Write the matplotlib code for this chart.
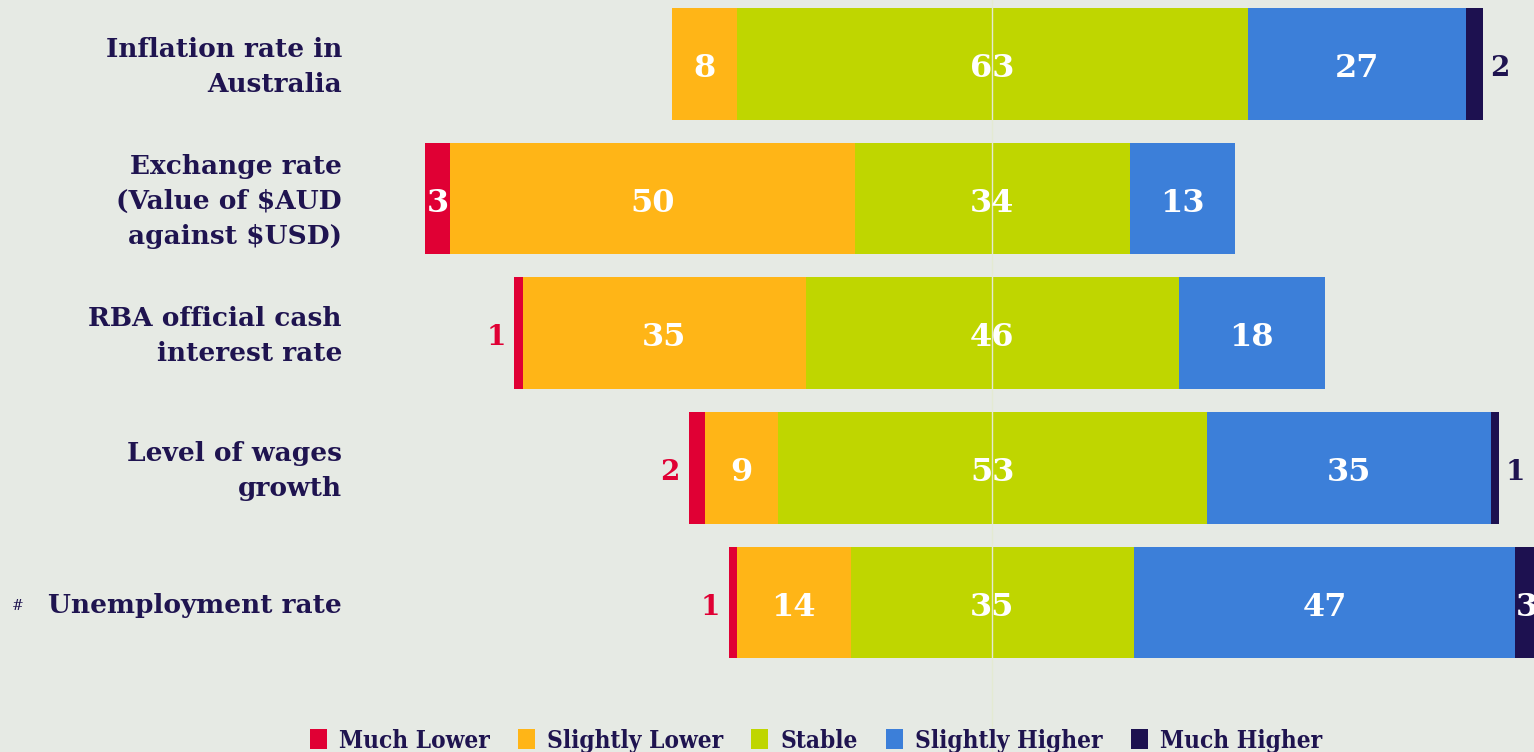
import matplotlib
matplotlib.use("Agg")
import matplotlib.pyplot as plt
from matplotlib.patches import Patch
import numpy as np

# survey outlook, % of respondents
categories = ["Inflation rate in\nAustralia",
              "Exchange rate\n(Value of $AUD\nagainst $USD)",
              "RBA official cash\ninterest rate",
              "Level of wages\ngrowth",
              "Unemployment rate"]
much_lower = [0, 3, 1, 2, 1]
slightly_lower = [8, 50, 35, 9, 14]
stable = [63, 34, 46, 53, 35]
slightly_higher = [27, 13, 18, 35, 47]
much_higher = [2, 0, 0, 1, 3]

series_names = ["Much Lower", "Slightly Lower", "Stable", "Slightly Higher", "Much Higher"]
colors = ["#e00034", "#ffb517", "#bfd600", "#3c7fd9", "#1d1150"]
bg = "#e6eae4"
navy = "#1f1450"

plt.rcParams["font.family"] = ["DejaVu Serif"]

fig = plt.figure(figsize=(15.34, 7.52), dpi=100, facecolor=bg)
ax = fig.add_axes([0, 0, 1, 1])
ax.set_facecolor(bg)

series = np.array([much_lower, slightly_lower, stable, slightly_higher, much_higher], dtype=float)
y = np.arange(len(categories))

# diverging layout: middle of the "stable" block sits on zero
left = -series[0] - series[1] - series[2] / 2
for i in range(5):
    vals = series[i]
    ax.barh(y, vals, left=left, height=0.83, color=colors[i], edgecolor="none", zorder=2)
    for j, v in enumerate(vals):
        if v == 0:
            continue
        cx = left[j] + v / 2
        ty = y[j] + 0.035
        if v >= 3:
            ax.text(cx, ty, f"{int(v)}", ha="center", va="center", color="white",
                    fontsize=23, fontweight="bold", zorder=4)
        elif i == 0:
            ax.text(left[j] - 1.1, ty, f"{int(v)}", ha="right", va="center",
                    color=colors[0], fontsize=20, fontweight="bold", zorder=4)
        else:
            ax.text(left[j] + v + 0.9, ty, f"{int(v)}", ha="left", va="center",
                    color=navy, fontsize=20, fontweight="bold", zorder=4)
    left = left + vals

ax.axvline(0, color="#e4ead2", lw=1, zorder=3)

for j, cat in enumerate(categories):
    ax.text(-80.3, y[j] + 0.02, cat, ha="right", va="center", color=navy,
            fontsize=19, fontweight="bold", linespacing=1.5)
ax.text(-121, y[-1] + 0.03, "#", ha="left", va="center", color=navy, fontsize=10)

ax.set_xlim(-122.5, 66.85)
ax.set_ylim(5.111, -0.4755)
ax.axis("off")

handles = [Patch(facecolor=c, edgecolor="none") for c in colors]
fig.legend(handles, series_names, loc="lower center", bbox_to_anchor=(0.532, -0.03),
           ncol=5, frameon=False, handlelength=0.7, handleheight=0.9, handletextpad=0.5,
           columnspacing=1.15,
           prop={"size": 17.5, "weight": "bold", "stretch": "condensed", "family": "DejaVu Serif"},
           labelcolor=navy)

fig.savefig("out.png", dpi=100, facecolor=bg)
